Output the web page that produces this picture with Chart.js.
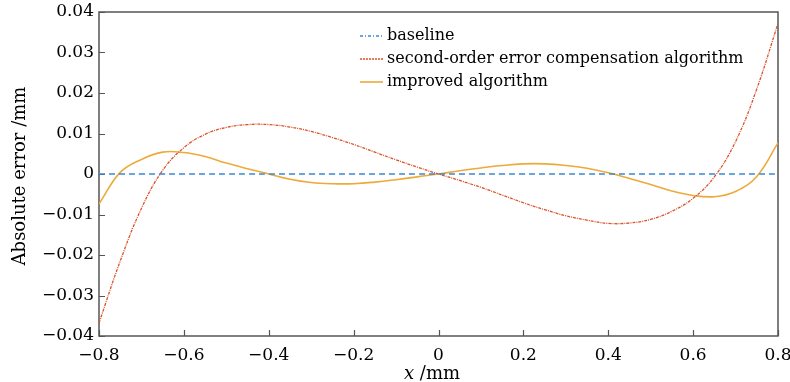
<!DOCTYPE html>
<html>
<head>
<meta charset="utf-8">
<script src="https://cdn.jsdelivr.net/npm/chart.js@4"></script>
<style>
  html, body { margin: 0; padding: 0; background: #fff; }
  canvas { display: block; }
</style>
</head>
<body>
<canvas id="chart" width="790" height="382"></canvas>
<script>
// x positions (mm)
const xValues = [
  -0.8, -0.75, -0.7, -0.65, -0.6, -0.55, -0.5, -0.45, -0.4, -0.35, -0.3, -0.25, -0.2, -0.15, -0.1, -0.05,
  0, 0.05, 0.1, 0.15, 0.2, 0.25, 0.3, 0.35, 0.4, 0.45, 0.5, 0.55, 0.6, 0.65, 0.7, 0.75, 0.8
];

// baseline (zero error)
const baselineValues = xValues.map(() => 0);

// second-order error compensation algorithm
const secondOrderValues = [
  -0.0368, -0.0215, -0.0085, 0.0009, 0.0065, 0.0098, 0.0115, 0.0122, 0.0122, 0.0116, 0.0105, 0.0090, 0.0073, 0.0054, 0.0035, 0.0017,
  0, -0.0016, -0.0033, -0.0052, -0.0071, -0.0088, -0.0103, -0.0114, -0.0122, -0.0121, -0.0112, -0.0092, -0.0060, -0.0007, 0.0080, 0.0210, 0.0372
];

// improved algorithm
const improvedValues = [
  -0.0074, 0.0004, 0.0036, 0.0054, 0.0053, 0.0043, 0.0027, 0.0013, 0.0000, -0.0013, -0.0021, -0.0024, -0.0024, -0.0020, -0.0014, -0.0007,
  0, 0.0008, 0.0015, 0.0021, 0.0025, 0.0025, 0.0021, 0.0014, 0.0003, -0.0011, -0.0026, -0.0042, -0.0053, -0.0056, -0.0043, -0.0006, 0.0077
];

const seriesNames = ['baseline', 'second-order error compensation algorithm', 'improved algorithm'];

// tick positions
const xTicks = [-0.8, -0.6, -0.4, -0.2, 0, 0.2, 0.4, 0.6, 0.8];
const yTicks = [-0.04, -0.03, -0.02, -0.01, 0, 0.01, 0.02, 0.03, 0.04];

const FONT = '"DejaVu Serif", "Liberation Serif", serif';
const AXIS_COLOR = '#555';
const TEXT_COLOR = '#000';

function fmt(v, digits) {
  if (Math.abs(v) < 1e-9) return '0';
  const s = Math.abs(v).toFixed(digits);
  return (v < 0 ? '\u2212' : '') + s;
}

function toPoints(ys) {
  return xValues.map((x, i) => ({ x: x, y: ys[i] }));
}

const styles = [
  { color: '#3a88d6', dash: [6, 4], legendDash: [3, 2, 1, 2], width: 1.6 },
  { color: '#d9532a', dash: [3, 1, 1, 1], legendDash: [2, 1], width: 1.3 },
  { color: '#edaa3a', dash: [], legendDash: [], width: 1.6 }
];

// Frame, inward ticks, axis titles and the in-plot legend
const decorations = {
  id: 'decorations',
  beforeDatasetsDraw(chart) {
    const { ctx, chartArea: a, scales } = chart;
    ctx.save();
    ctx.strokeStyle = AXIS_COLOR;
    ctx.lineWidth = 1.5;
    ctx.strokeRect(a.left, a.top, a.right - a.left, a.bottom - a.top);
    ctx.lineWidth = 1.2;
    ctx.beginPath();
    xTicks.forEach(v => {
      const px = Math.round(scales.x.getPixelForValue(v)) + 0.5;
      ctx.moveTo(px, a.bottom);
      ctx.lineTo(px, a.bottom - 6);
    });
    yTicks.forEach(v => {
      const py = Math.round(scales.y.getPixelForValue(v)) + 0.5;
      ctx.moveTo(a.left, py);
      ctx.lineTo(a.left + 6, py);
    });
    ctx.stroke();
    ctx.restore();
  },
  afterDraw(chart) {
    const { ctx, chartArea: a } = chart;
    ctx.save();
    ctx.fillStyle = TEXT_COLOR;

    // y axis title
    ctx.save();
    ctx.translate(20, (a.top + a.bottom) / 2 + 2);
    ctx.rotate(-Math.PI / 2);
    ctx.font = '18px ' + FONT;
    ctx.textAlign = 'center';
    ctx.textBaseline = 'middle';
    ctx.fillText('Absolute error /mm', 0, 0);
    ctx.restore();

    // x axis title: italic x + /mm
    ctx.textBaseline = 'alphabetic';
    ctx.textAlign = 'left';
    ctx.font = 'italic 18px ' + FONT;
    const xw = ctx.measureText('x').width;
    ctx.font = '18px ' + FONT;
    const restW = ctx.measureText(' /mm').width;
    const startX = 432 - (xw + restW) / 2;
    ctx.font = 'italic 18px ' + FONT;
    ctx.fillText('x', startX, 379);
    ctx.font = '18px ' + FONT;
    ctx.fillText(' /mm', startX + xw, 379);

    // legend
    const rowsY = [36, 59, 82];
    ctx.font = '16px ' + FONT;
    ctx.textBaseline = 'middle';
    seriesNames.forEach((name, i) => {
      const s = styles[i];
      ctx.save();
      ctx.strokeStyle = s.color;
      ctx.lineWidth = s.width;
      ctx.setLineDash(s.legendDash);
      ctx.beginPath();
      ctx.moveTo(360, rowsY[i]);
      ctx.lineTo(383, rowsY[i]);
      ctx.stroke();
      ctx.restore();
      ctx.fillText(name, 387, rowsY[i]);
    });
    ctx.restore();
  }
};

new Chart(document.getElementById('chart'), {
  type: 'line',
  data: {
    datasets: [baselineValues, secondOrderValues, improvedValues].map((ys, i) => ({
      label: seriesNames[i],
      data: toPoints(ys),
      borderColor: styles[i].color,
      borderWidth: styles[i].width,
      borderDash: styles[i].dash,
      pointRadius: 0,
      tension: 0.4,
      fill: false
    }))
  },
  options: {
    responsive: false,
    animation: false,
    layout: { padding: { top: 12, right: 12, left: 0, bottom: 0 } },
    plugins: {
      legend: { display: false },
      tooltip: { enabled: false }
    },
    scales: {
      x: {
        type: 'linear',
        min: -0.8,
        max: 0.8,
        afterFit(scale) {
          scale.height = 46;
          scale.paddingLeft = 0;
          scale.paddingRight = 0;
        },
        afterBuildTicks(scale) { scale.ticks = xTicks.map(v => ({ value: v })); },
        grid: { display: false, drawTicks: false },
        border: { display: false },
        ticks: {
          padding: 9,
          color: TEXT_COLOR,
          maxRotation: 0,
          font: { family: FONT, size: 17 },
          callback: v => fmt(v, 1)
        }
      },
      y: {
        type: 'linear',
        min: -0.04,
        max: 0.04,
        afterFit(scale) {
          scale.width = 99;
          scale.paddingTop = 0;
          scale.paddingBottom = 0;
        },
        afterBuildTicks(scale) { scale.ticks = yTicks.map(v => ({ value: v })); },
        grid: { display: false, drawTicks: false },
        border: { display: false },
        ticks: {
          padding: 5,
          color: TEXT_COLOR,
          font: { family: FONT, size: 17 },
          callback: v => fmt(v, 2)
        }
      }
    }
  },
  plugins: [decorations]
});
</script>
</body>
</html>
